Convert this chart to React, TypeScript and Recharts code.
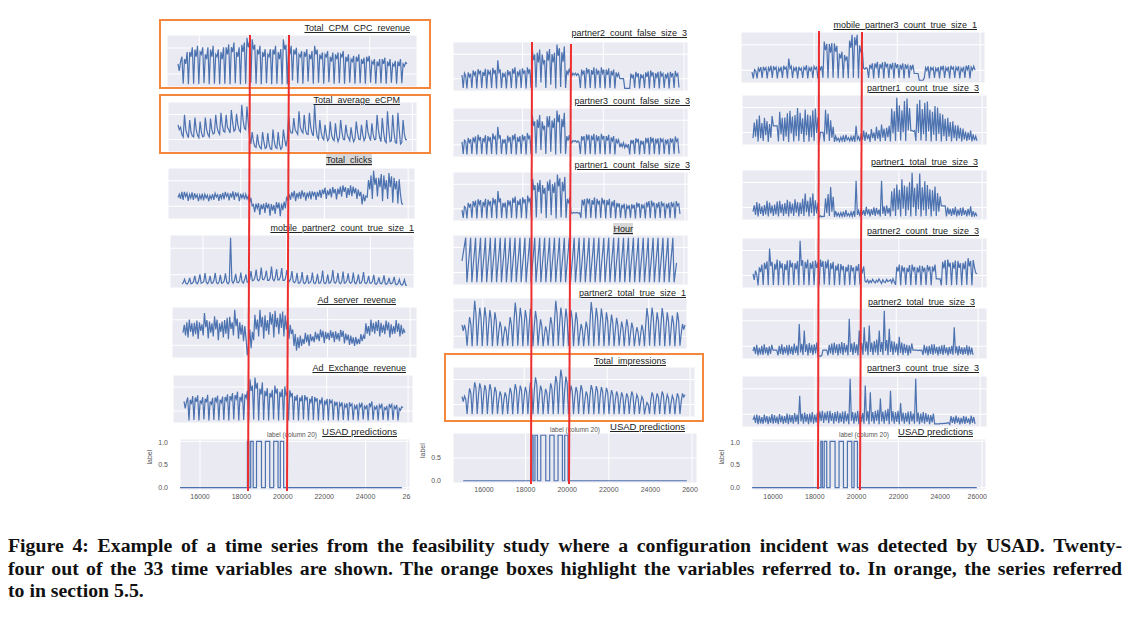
import React from "react";
import { LineChart, Line, XAxis, YAxis, CartesianGrid } from "recharts";

// shared time axis of the small panels (44 daily cycles, 4 readings a day)
const X_START = 15000;
const X_END = 25750;
const STEP = (X_END - X_START) / 176;

const GRID_X = [16000, 18000, 20000, 22000, 24000, 26000];

// ---- column 1 ----
const TOTAL_CPM_CPC_REVENUE = [
  4.5,3,5,6, 0.3,5.5,4.5,7, 0.2,7,6,8, 0.3,7.5,6,8.3, 0.2,7,6.5,8, 0.4,6.5,5.5,8, 0.2,7.5,6,8.3, 0.3,6.5,6,7.5,
  0.2,7,5.5,8, 0.3,8,6.5,8.6, 0.2,8,7,9, 0.4,7,6,8, 0.2,8.5,7,9, 0.3,10,8,9.2, 0.5,9.7,7.5,8.5, 0.3,7.5,6.5,8.3,
  0.2,7,6,7.6, 0.4,6.5,6,7.6, 0.2,7.5,6.5,8.3, 0.3,7,5.5,7.6, 0.2,9.7,7.5,8.5, 0.2,8,6.5,8.3, 1,7.5,6.5,7.9, 0.4,6.5,6,7.2,
  0.3,7,6,7.6, 0.8,6.5,5.5,7.2, 0.3,8.3,6.5,7.5, 0.5,6.5,5.5,6.9, 0.3,6.5,6,7.2, 0.6,6,5,6.9, 0.3,6.5,5.5,6.9, 0.4,6.5,6,7.2,
  0.3,6,5,6.5, 0.5,5.5,5,6.2, 0.3,6,5,6.5, 0.4,5.5,4.5,5.8, 0.3,6,5,6.2, 0.5,5,4.5,5.5, 0.3,5,4,5.5, 0.4,5.5,4.5,5.8,
  0.3,5,4,5.5, 0.5,4.5,4,5.1, 0.3,5,4,5.5, 0.4,4.5,4,4.8, 4.5,
];
const TOTAL_AVERAGE_ECPM = [
  5.5,4.5,5,3.5, 3,7.6,4.5,3.5, 2.8,6.5,4,3.2, 3,7,4.5,3.3, 2.8,6.2,4,3, 3.2,7,4.5,3.5, 3,6.8,4.5,3.6, 3.8,7.6,5,4,
  3.5,8,5.5,4.2, 4,7.6,5,4.5, 3.8,8.6,6,4.2, 4.5,7.8,5.5,4.4, 4,9.7,6.5,4.8, 4.5,9.3,6,3, 1.5,4,2,1, 0.8,3.5,1.5,0.8,
  0.5,4,2,0.6, 0.8,3.8,1.5,0.5, 0.4,4.5,2,0.8, 0.6,4,1.5,0.4, 0.8,4.5,2.5,1, 2.5,7.5,4.5,3.8, 3.8,6.9,4.5,4, 3.5,8.3,5,4.2,
  3.8,7.6,4.5,3.6, 3.5,8,5,3.8, 3.2,9.7,5,3, 2.5,6.5,4,2.8, 2.4,5.5,3.5,2.2, 2.6,6.2,3.5,2.5, 2.2,5.8,3.2,2, 2.8,6.5,4,2.5,
  2.4,5.5,3.5,2.8, 2.2,5,3,2, 2.6,6.2,4,2.5, 2.4,5.5,3.5,2.2, 2.8,6.5,4,3, 2.2,5.8,3.5,2.4, 2.5,7.6,4.5,2.8, 2,6.9,4,2.2,
  1.8,8.3,4.5,2, 2.2,7.6,4,1.8, 1.7,8,4.5,1.5, 1.8,6.5,3.5,2.4, 2.4,
];
const TOTAL_CLICKS = [
  4.3,5,4,5.5, 3.8,5.5,4.5,5.2, 3.6,5,4.2,5.4, 3.8,5.2,4.3,4.9, 3.5,4.8,4,5.1, 3.7,5,4.2,4.8, 3.5,4.7,4,5, 3.8,5.2,4.4,4.9,
  3.6,5,4.1,5.3, 3.9,5.5,4.5,5.1, 3.7,5.2,4.3,5.6, 3.8,5.4,4.6,5.2, 3.5,5.1,4.2,5, 3.9,5,4,4.6, 3.2,4.2,2.5,2.8, 1.2,3,2,3.1,
  0.6,2.8,1.8,3, 1,3.2,2,3, 0.4,2.9,1.5,2.7, 0.8,3.3,2,3.2, 0.3,3,1.6,3.4, 2,4.5,3.6,5, 3.8,5.4,4.5,5.7, 3.5,5.2,4.3,5.5,
  4,5.8,4.6,5.4, 3.6,5.3,4.4,5.6, 3.9,5.6,4.7,5.5, 3.8,5.5,4.5,5.9, 4.2,6,5,6.4, 4,5.8,4.8,6.2, 4.3,6.5,5.2,6.1, 3.9,6.2,5,6.6,
  4.5,6.9,5.5,6.5, 4.2,6.3,4.8,6.9, 4.6,6.6,5.2,6.3, 4,6,4.6,5.5, 2.8,5,3.5,4.6, 4.4,8,6,9, 4,10,7,8.5, 4.5,8.5,6.5,9.3,
  3.5,9,6,8, 4,9.5,6.5,8.8, 3.2,8.5,6,7.8, 3,8.2,5,3, 2.8,
];
const MOBILE_PARTNER2_COUNT_TRUE_SIZE_1 = [
  0.6,0.8,1.5,0.7, 0.5,0.9,1.8,0.6, 0.7,1,2.2,0.8, 0.6,1.2,2.5,0.7, 0.8,1,2.8,0.9, 0.6,1.1,2.2,0.7, 0.7,1.3,2.8,0.8, 0.6,1,2.4,0.7,
  0.8,1.2,2.7,0.9, 0.6,1,10,1.2, 0.7,1.3,2.6,0.9, 0.8,1.2,2.9,1, 0.7,1.4,2.5,0.9, 1,1.5,3.2,1.2, 1.3,1.8,3.5,1.4, 1.2,1.7,3.9,1.5,
  1.4,2,3.3,1.3, 1.3,1.8,4.1,1.5, 1.2,1.9,3.6,1.4, 1.4,2,3.8,1.3, 1.3,1.7,3.4,1.5, 1.1,1.6,3.2,1, 0.8,1.2,2.8,0.7, 0.7,1.3,3,0.8,
  0.6,1,2.4,0.7, 0.8,1.2,2.9,0.8, 0.6,1.1,2.6,0.7, 0.7,1.3,3.3,0.8, 0.6,1,2.5,0.7, 0.8,1.4,3.4,0.9, 0.7,1.2,2.8,0.8, 0.6,1.1,3.1,0.7,
  0.8,1.3,2.7,0.9, 0.7,1,2.9,0.8, 0.6,1.2,2.5,0.7, 0.7,1.3,3,0.8, 0.6,1,2.2,0.7, 0.7,1.1,2.4,0.6, 0.5,0.9,1.9,0.7, 0.6,1,2.3,0.6,
  0.5,0.8,1.8,0.6, 0.6,1,2,0.5, 0.4,0.7,1.5,0.5, 0.3,0.6,1.4,0.3, 0.3,
];
const AD_SERVER_REVENUE = [
  4.8,6.5,4.2,7, 3.8,7.6,5,6.8, 4,6.9,4.5,7.4, 3.5,7,5.2,6.6, 4.2,9,6,7.5, 3.6,7.2,4.8,6.8, 4,8.3,5.5,7.6, 3.2,6.8,5,7.2,
  3.8,7.5,4.6,8, 3.4,8.2,5.6,7, 4.2,9.7,6.2,7.8, 3.5,7,4.4,6.5, 3,6.2,3.5,0, 2.5,5.5,1.5,5, 3.2,8.6,5.5,7.6, 4,9.7,6,8.2,
  3.5,8.5,5.2,7.5, 4.4,9.2,6.5,8.8, 3.8,9.5,6,8, 4.5,8.9,5.8,9.3, 4,8.5,5.5,7.8, 3.5,6.5,4.5,5.5, 2,4.5,1,3.8, 1.5,4.2,2,3.5,
  2.4,4.8,2.8,4.4, 2,4.5,3,4, 2.8,5,3.4,4.6, 3,5.5,3.8,5.2, 2.6,5,3.5,4.8, 3.2,5.3,3.7,5, 2.8,5.1,3.4,4.7, 3,5.4,3.9,5.2,
  2.5,4.6,3.2,4.4, 2.2,4.2,2.5,3.8, 2,3.9,2.3,3.5, 2.4,4.5,3,4.2, 3.5,6.8,4.6,6.2, 4.2,7.6,5,6.9, 4.6,7.2,5.2,7.5, 4,6.9,4.8,6.5,
  4.5,7.4,5.3,7, 3.8,6.6,4.5,6.2, 4.6,7.5,5,6.8, 4,6.5,4.5,5.5, 4.8,
];
const AD_EXCHANGE_REVENUE = [
  4.6,3,4.5,5.5, 0.3,5,4,5.8, 0.4,5.5,4.5,6, 0.3,4.8,4.2,5.6, 0.5,5.2,4.4,6.1, 0.3,4.6,4,5.4, 0.4,5.5,4.6,5.9, 0.3,5,4.3,5.7,
  0.4,5.6,4.8,6.2, 0.3,5.8,5,6.5, 0.5,6,5.2,6.8, 0.3,5.6,4.8,6.4, 0.4,6.2,5.4,7, 0.3,9.6,7,8.2, 0.5,10,7.5,8.8, 0.3,7.5,6.2,8.9,
  0.4,7,5.8,7.6, 0.3,6.5,5.5,7.2, 0.5,8.2,6.4,7.5, 0.3,6.8,5.6,7.4, 0.4,8,6,6.6, 0.3,7.1,5.8,6.5, 0.4,5.8,4.8,6.1, 0.3,5.5,4.6,6,
  0.5,6,5,5.6, 0.3,5.2,4.4,5.8, 0.4,5.6,4.7,5.3, 0.3,5,4.2,5.5, 0.4,4.8,4,5.2, 0.3,5.1,4.3,4.8, 0.4,4.6,3.8,4.5, 0.3,4.2,3.6,4.4,
  0.4,3.9,3.3,4.2, 0.3,4.4,3.6,4, 0.4,3.6,3,3.9, 0.3,4,3.4,4.3, 0.5,3.5,3,3.8, 0.3,4.2,3.5,4.6, 0.4,3.4,2.9,3.7, 0.3,3.8,3.2,4.1,
  0.4,3.2,2.8,3.6, 0.3,4,3.3,3.9, 0.4,3.5,3,3.8, 0.3,3,2.6,3.4, 3.2,
];

// ---- column 2 ----
const PARTNER2_COUNT_FALSE_SIZE_3 = [
  3.2,0.3,3.6,3, 0.2,3.8,2.8,3.5, 0.3,4.2,3.2,4, 0.2,4.5,3.5,4.2, 0.3,3.9,3,4.6, 0.2,4.4,3.4,4, 0.3,4.8,3.6,4.3, 0.2,6.5,3.8,4.4,
  0.3,3.7,2.9,3.5, 0.2,4.3,3.3,4, 0.3,4.6,3.5,4.9, 0.2,4,3.1,4.4, 0.3,4.7,3.6,4.2, 0.2,4.9,3.7,4.5, 0.3,8.9,6.5,7.8, 0.4,8.2,6,8.9,
  1.5,7.8,5.8,6.5, 0.3,8.5,6.4,9, 1,7.9,6,8.2, 0.2,10,7.5,9.2, 0.5,8.3,6.2,9.6, 0.3,4.2,3.4,4.6, 3.5,3,3.6,3.2, 3.6,3.1,3.5,3,
  0.3,4.4,3.4,4.2, 0.2,4.8,3.7,4.5, 0.3,4.3,3.3,4.9, 0.2,4.6,3.5,4.2, 0.3,4.9,3.6,4.4, 0.2,4.4,3.2,4.7, 0.3,4.1,3.1,4.4, 0.2,3.8,2.9,3.6,
  2.4,2.4,2.4,2.4, 0.2,0.2,0.2,0.2, 0.2,3.5,2.6,3.3, 0.3,3.9,2.9,3.6, 0.2,3.4,2.6,3.1, 0.3,3.8,2.8,4, 0.2,4.2,3.1,3.8, 0.3,3.6,2.7,3.9,
  0.2,4,3,3.5, 0.3,3.4,2.6,3.7, 0.2,3.9,2.9,3.6, 0.3,4.1,3,3.5, 0.4,
];
const PARTNER3_COUNT_FALSE_SIZE_3 = [
  3,0.3,3.4,3.1, 0.2,3.9,2.9,3.6, 0.3,4,3.1,4.2, 0.2,4.6,3.4,4.1, 0.3,3.8,3.1,4.5, 0.2,4.3,3.3,4.1, 0.3,4.9,3.7,4.2, 0.2,6.4,3.9,4.5,
  0.3,3.6,2.8,3.6, 0.2,4.4,3.2,4.1, 0.3,4.5,3.6,4.8, 0.2,4.1,3,4.3, 0.3,4.6,3.5,4.3, 0.2,5,3.8,4.4, 0.3,9,6.6,7.6, 0.4,8,6.1,9,
  1.2,7.6,5.9,6.6, 0.3,8.7,6.3,8.8, 0.8,7.8,6.1,8.3, 0.2,10,7.4,9.1, 0.4,8.1,6.3,9.5, 0.3,4.3,3.3,4.5, 3.2,2.8,3.3,3.1, 3.3,2.9,3.2,2.9,
  0.3,4.3,3.5,4.3, 0.2,4.7,3.6,4.6, 0.3,4.4,3.4,4.8, 0.2,4.5,3.4,4.3, 0.3,4.8,3.7,4.3, 0.2,4.3,3.3,4.6, 0.3,4,3.2,4.3, 0.2,3.7,2.8,3.5,
  1.8,2.6,1.9,2.8, 1.7,2.4,1.8,2.5, 0.2,3.4,2.7,3.4, 0.3,3.8,3,3.7, 0.2,3.3,2.5,3.2, 0.3,3.9,2.9,3.9, 0.2,4.1,3,3.9, 0.3,3.7,2.8,3.8,
  0.2,3.9,3.1,3.6, 0.3,3.5,2.7,3.6, 0.2,3.8,3,3.7, 0.3,4.2,3.1,3.6, 0.4,
];
const PARTNER1_COUNT_FALSE_SIZE_3 = [
  2,0.3,2.8,2.5, 0.2,3.6,2.7,3.4, 0.3,4,3,4.1, 0.2,4.4,3.3,4.2, 0.3,3.8,3,4.5, 0.2,4.3,3.2,4, 0.3,4.7,3.5,4.4, 0.2,6.2,3.7,4.6,
  0.3,3.6,2.8,3.7, 0.2,4.2,3.2,4.1, 0.3,4.7,3.6,5, 0.2,4.1,3.1,4.5, 0.3,4.8,3.7,4.4, 0.2,5.2,3.9,4.7, 0.3,8.9,6.4,7.5, 0.4,8,6,8.6,
  1.3,7.5,5.6,6.9, 0.3,8.3,6.2,8.7, 0.9,7.7,5.8,8.1, 0.2,9.8,7.2,9, 0.4,8.2,6.1,9.3, 0.3,4.5,3.5,4.8, 1.4,1.3,1.5,1.4, 1.4,1.5,1.3,1.4,
  0.3,4.3,3.3,4.4, 0.2,4.6,3.6,4.5, 0.3,4.2,3.2,4.8, 0.2,4.5,3.4,4.1, 0.3,4.7,3.5,4.3, 0.2,4.2,3.1,4.5, 0.3,3.9,3,4.2, 0.2,3.6,2.8,3.5,
  0.3,3.2,2.5,3.4, 0.2,3,2.4,3.1, 0.3,3.3,2.5,3.2, 0.2,3.7,2.8,3.5, 0.3,3.3,2.5,3.1, 0.2,3.8,2.9,4, 0.3,4.1,3,3.7, 0.2,3.5,2.7,3.8,
  0.3,3.9,3,3.4, 0.2,3.4,2.6,3.6, 0.3,3.8,2.9,3.5, 0.2,4,3,3.4, 1.2,
];
const HOUR = [
  11,15,19,23, 0,8,15,23, 0,8,15,23, 0,8,15,23, 0,8,15,23, 0,8,15,23, 0,8,15,23, 0,8,15,23,
  0,8,15,23, 0,8,15,23, 0,8,15,23, 0,8,15,23, 0,8,15,23, 0,8,15,23, 0,8,15,23, 0,8,15,23,
  0,8,15,23, 0,8,15,23, 0,8,15,23, 0,8,15,23, 0,8,15,23, 0,8,15,23, 0,8,15,23, 0,8,15,23,
  0,8,15,23, 0,8,15,23, 0,8,15,23, 0,8,15,23, 0,8,15,23, 0,8,15,23, 0,8,15,23, 0,8,15,23,
  0,8,15,23, 0,8,15,23, 0,8,15,23, 0,8,15,23, 0,8,15,23, 0,8,15,23, 0,8,15,23, 0,8,15,23,
  0,8,15,23, 0,8,15,23, 0,8,15,23, 0,5,10,
];
const PARTNER2_TOTAL_TRUE_SIZE_1 = [
  4.8,3.5,4.8,3.6, 0.3,3.8,6.5,4.9, 0.2,5.5,10,7.2, 0.3,4.9,8.5,6.4, 0.2,5,8.6,6.3, 0.3,4.6,8,6, 0.2,4.2,7.5,5.7, 0.3,3.2,5.5,4.2,
  0.2,2.6,4.5,3.4, 0.3,3.7,6.5,4.8, 0.2,5.4,9.6,7, 0.3,4.8,8.5,6.3, 0.2,4.5,8,6.1, 0.3,4.7,8.3,6.2, 0.2,4.4,7.8,5.8, 0.3,3.4,6,4.5,
  0.2,2.6,4.5,3.3, 0.3,3.7,6.5,4.9, 0.2,5.6,10,7.3, 0.3,4.8,8.5,6.4, 0.2,4.7,8.3,6.1, 0.3,4.5,8,6, 0.2,4.3,7.5,5.6, 0.3,2.9,5,3.8,
  0.2,3.1,5.5,4.1, 0.3,5.4,9.7,7.1, 0.2,4.9,8.5,6.3, 0.3,4.7,8.3,6.2, 0.2,4.2,7.5,5.6, 0.3,4,7,5.2, 0.2,3.6,6.3,4.7, 0.3,3.1,5.5,4.1,
  0.2,3.4,6,4.5, 0.3,3,5.3,4, 0.2,2.5,4.3,3.2, 0.3,2.7,4.8,3.6, 0.2,4.8,8.4,6.2, 0.3,4.9,8.5,6.4, 0.2,4.3,7.5,5.6, 0.3,4.8,8.4,6.3,
  0.2,4.3,7.5,5.5, 0.3,3.9,6.8,5.1, 0.2,4.3,7.5,5.6, 0.3,2.9,5,3.8, 4.8,
];
const TOTAL_IMPRESSIONS = [
  4.1,3,4.2,3.5, 0.3,3.6,5.9,4.8, 0.2,4.5,7.2,6, 0.3,4.4,7,5.8, 0.2,4.1,6.6,5.5, 0.3,4.2,6.8,5.6, 0.2,3.9,6.2,5.1, 0.3,3.3,5.2,4.3,
  0.2,3.2,5,4.1, 0.3,3.8,6,4.9, 0.2,4.3,6.8,5.6, 0.3,4.1,6.5,5.4, 0.2,3.9,6.2,5.1, 0.3,4.5,7.2,6, 0.2,5.2,8.3,6.8, 0.3,4.1,6.5,5.4,
  0.2,3.7,5.8,4.8, 0.3,4.4,7,5.8, 0.2,5.4,8.6,7.1, 0.3,6.3,10,8.2, 0.2,5.3,8.5,7, 0.3,4.1,6.5,5.3, 0.2,3.9,6.2,5.1, 0.3,4.2,6.6,5.4,
  0.2,3.3,5.2,4.3, 0.3,4.2,6.6,5.5, 0.2,4,6.4,5.3, 0.3,3.9,6.2,5.1, 0.2,3.8,6,5, 0.3,3.5,5.5,4.6, 0.2,3.3,5.2,4.3, 0.3,3.2,5,4.1,
  0.2,3,4.8,4, 0.3,3.3,5.2,4.3, 0.2,2.9,4.5,3.7, 0.3,2.6,4.1,3.4, 0.2,1.8,2.8,2.3, 0.3,3.2,5,4.1, 0.2,3,4.8,4, 0.3,3.3,5.2,4.3,
  0.2,2.9,4.5,3.7, 0.3,2.7,4.3,3.5, 0.2,3,4.8,4, 0.3,3,4.8,4, 4.5,
];

// ---- column 3 ----
const MOBILE_PARTNER3_COUNT_TRUE_SIZE_1 = [
  2,0.7,2.5,2.2, 0.7,2.8,2.2,3, 0.8,3.1,2.4,2.9, 0.7,2.9,2.3,3.3, 0.8,3.2,2.5,3, 0.7,2.8,2.2,3.1, 0.8,3.3,2.6,3, 0.7,4.8,2.7,3.2,
  0.8,2.9,2.3,3.1, 0.7,3.1,2.4,2.8, 0.8,3,2.5,3.4, 0.7,2.9,2.3,3.1, 0.8,3.2,2.6,3, 0.7,3.4,2.5,3.2, 0.8,8.3,6.5,7.8, 0.7,7.8,6,8,
  0.8,7.9,6.2,7.4, 0.7,5.8,4.8,6.2, 0.8,5.5,4.5,5.2, 0.7,8.5,7,9.7, 0.8,9.2,7.5,9.7, 0.7,7.5,6,7, 2.8,2.6,2.9,2.7, 0.8,3.5,2.8,3.8,
  0.7,3.8,3,4.1, 0.8,3.6,2.9,4, 0.7,4.1,3.1,3.7, 0.8,3.7,2.8,3.9, 0.7,3.9,3,3.6, 0.8,3.5,2.7,3.8, 0.7,3.6,2.8,3.4, 0.8,3.4,2.6,3.5,
  1.7,1.7,1.7,1.7, 0.3,0.3,0.3,0.3, 0.8,2.9,2.3,3.2, 0.7,3.1,2.4,2.9, 0.8,2.8,2.2,3, 0.7,3.2,2.5,3.3, 0.8,2.9,2.3,3.1, 0.7,3.3,2.6,3,
  0.8,3,2.4,3.2, 0.7,2.8,2.2,3.1, 0.8,3.3,2.5,3.4, 0.7,3,2.4,3.2, 2.4,
];
const PARTNER1_COUNT_TRUE_SIZE_3 = [
  1.2,4.5,1.5,5.2, 0.5,6,1.2,4.4, 0.6,5.5,1.8,4.8, 0.4,4.2,1.3,5.9, 3.8,3.8,3.8,3.8, 0.5,6.8,2,5.5, 0.6,5.6,1.5,6.5, 0.4,7,2.2,5.8,
  0.5,6.1,1.6,7.6, 0.6,6.6,2.1,5.4, 0.4,7.3,1.8,6.2, 0.5,6,1.4,7.1, 0.6,7.5,2.3,5.6, 0.3,2.4,2.4,2.4, 0.5,7.2,2,6.4, 0.6,5,1.3,3.6,
  0.4,1.6,0.7,1.2, 0.5,1.4,0.6,1.8, 0.4,1.9,0.8,1.3, 0.6,1.5,0.5,1.7, 0.4,3.8,0.9,1.5, 0.5,2.2,0.8,2.8, 0.6,2.5,1,2, 0.4,3.1,1.2,2.4,
  0.6,3.6,1.1,2.9, 0.5,4.1,1.3,3.2, 0.6,3.4,1.4,3.8, 0.5,7.5,2.2,6.9, 0.6,9.8,2.5,8.2, 0.7,7.1,2.4,9.1, 0.6,9.6,2.8,7.6, 2.8,2.8,2.6,2.8,
  0.6,8.5,2.3,9.3, 0.7,7.4,2,8.7, 0.6,9,2.6,7.2, 0.5,6.8,1.9,8, 0.6,7.7,2.1,6.5, 0.5,6.2,1.6,5.3, 0.6,5.5,1.5,4.6, 0.5,4.8,1.2,3.9,
  0.6,3.9,1.1,3.4, 0.5,3.2,0.9,2.6, 0.6,2.4,0.8,2.8, 0.5,2,0.7,1.6, 0.6,
];
const PARTNER1_TOTAL_TRUE_SIZE_3 = [
  1.5,2.8,0.8,3.5, 0.5,3.2,1,2.6, 0.6,2.9,0.9,3.8, 0.5,3.4,1.1,2.8, 0.6,3,0.9,3.6, 0.5,3.8,1.2,3.1, 0.6,3.3,1,4, 0.5,3.6,1.1,3.2,
  0.6,4.1,1.3,3.5, 0.5,3.4,1,4.2, 0.6,5.3,1.4,3.8, 0.5,4.5,1.2,5.3, 0.6,3.9,1.1,3.3, 0.3,0.6,0.4,0.5, 0.5,4.3,1.2,5.2, 0.6,6.7,1.5,4.6,
  0.4,1.6,0.6,1.2, 0.5,1.3,0.5,1.5, 0.4,1.8,0.6,1.1, 0.5,1.4,0.5,1.6, 0.4,8,0.8,1.7, 0.5,2.2,0.8,1.8, 0.6,2.5,0.9,2, 0.5,2,0.8,2.4,
  0.6,2.3,0.9,1.9, 0.5,8,1,2.6, 0.6,2.8,1.1,2.3, 0.5,5.8,1.6,6.4, 0.6,7.2,1.9,6.1, 0.5,8.3,2.1,7, 0.6,6.8,1.8,7.7, 0.5,9.7,2.4,6.5,
  0.6,7.4,2,9.5, 0.5,6.6,1.8,7.9, 0.6,7.1,2,6.2, 0.5,6,1.6,6.8, 0.6,5.4,1.5,4.7, 2.7,2.7,2.7,2.7, 0.5,2.4,0.9,2.1, 0.6,2.2,0.8,2.5,
  0.5,1.9,0.7,2.3, 0.6,2.4,0.8,1.8, 0.5,2.1,0.7,2.6, 0.4,1.6,0.6,1.2, 0.5,
];
const PARTNER2_COUNT_TRUE_SIZE_3 = [
  2.8,1.5,3.5,2.5, 0.3,4.2,3.2,4.8, 0.4,5.2,3.8,5.5, 0.3,8.3,4.5,5.4, 0.4,5,3.7,5.9, 0.3,5.6,4,5.1, 0.4,4.9,3.6,5.7, 0.3,5.8,4.2,5.2,
  0.4,5.1,3.8,5.6, 0.3,10,4.5,5.8, 0.4,5.4,4,5.9, 0.3,5.2,3.9,5.5, 0.4,5.7,4.1,5.3, 0.3,5.9,4.3,5.6, 0.5,5.5,4,5.9, 0.4,5.1,3.8,5.4,
  0.3,4.6,3.5,5, 0.4,4.9,3.7,4.5, 0.3,4.3,3.3,4.8, 0.4,4.7,3.5,4.2, 0.3,4.5,3.4,4.9, 0.5,4.1,3.2,4.4, 1.2,1,1.5,0.8, 1.3,0.9,1.6,1.1,
  0.8,1.4,1,1.7, 1.2,0.7,1.5,1, 0.9,1.6,1.1,1.3, 1.5,0.8,1.7,1, 0.4,4.3,3.3,4.8, 0.3,4.6,3.4,4.2, 0.4,4.1,3.2,4.7, 0.3,4.8,3.5,4.3,
  0.4,4.2,3.1,4.6, 0.3,4.5,3.4,4.1, 0.4,4.7,3.6,4.4, 0.3,4.4,3.3,4.8, 1.7,1.7,1.7,1.7, 0.3,5.4,4,5.8, 0.4,5.9,4.3,5.2, 0.3,5.3,3.9,5.7,
  0.4,5.6,4.1,5.1, 0.3,5.2,3.8,5.5, 0.4,6.2,4.4,5.6, 0.3,5.8,4.2,3, 2.8,
];
const PARTNER2_TOTAL_TRUE_SIZE_3 = [
  1.5,2.4,0.9,2.8, 0.6,2.2,0.8,2.6, 0.7,2.9,1,2.3, 0.6,2.5,0.9,2.8, 1.7,1.7,1.7,1.7, 0.6,2.6,0.9,2.9, 0.7,2.4,1,2.7, 0.6,2.8,0.9,2.5,
  0.7,3.1,1.1,2.6, 0.6,7.2,1.2,3, 0.7,5.8,1.3,2.9, 0.6,3.2,1.1,2.8, 0.7,2.9,1,3.3, 0.4,0.5,0.4,0.6, 1.7,1.7,1.7,1.7, 0.6,2.8,1,3.1,
  0.7,3.3,1.1,2.9, 0.6,3,1,3.4, 0.7,3.2,1.2,2.8, 0.6,8.3,1.3,3.1, 0.7,3.4,1.1,2.9, 0.6,5.8,1.2,3.2, 0.7,6.5,1.4,3.5, 0.6,6.9,1.3,3.3,
  0.7,3.6,1.2,3.9, 0.6,5.8,1.3,3.4, 0.7,10,1.5,3.8, 0.6,6.2,1.3,3.6, 0.7,3.5,1.2,3.1, 0.6,4.5,1.1,3.3, 0.7,3,1.1,2.8, 0.6,2.7,1,3.1,
  1.7,1.7,1.7,1.7, 1.6,1.7,1.6,1.7, 0.7,2.8,1,2.5, 0.6,2.6,0.9,2.9, 0.7,2.9,1,2.4, 0.6,2.5,0.9,2.7, 0.7,2.8,1,2.3, 0.6,2.4,0.9,2.6,
  0.7,6.5,1,2.5, 0.6,2.6,0.9,2.3, 0.7,2.3,0.9,2.7, 0.6,2.5,0.8,2.2, 0.7,
];
const PARTNER3_COUNT_TRUE_SIZE_3 = [
  1.5,2.2,0.9,2.6, 0.6,2.4,0.8,2.1, 0.7,2.6,1,2.3, 0.6,2.2,0.9,2.7, 0.7,2.5,0.9,2.2, 0.6,2.7,1,2.4, 0.7,2.3,0.9,2.8, 0.6,2.6,1,2.5,
  0.7,2.9,1.1,2.6, 0.6,6.5,1.2,2.8, 0.7,3,1.1,2.7, 0.6,2.8,1,3.1, 0.7,2.6,1,2.9, 0.8,3.2,1.3,3.4, 0.9,3,1.4,3.3, 0.8,3.4,1.3,2.9,
  0.7,3.1,1.2,3.3, 0.8,2.9,1.1,3.2, 0.7,3.3,1.2,2.8, 0.6,10,1.3,3.1, 0.7,3,1.2,3.4, 0.6,3.2,1.1,2.9, 0.7,8.6,1.3,3.3, 0.6,7.2,1.2,3.1,
  0.7,3.4,1.3,3.6, 0.6,5.9,1.2,3.2, 0.7,3.5,1.3,3.8, 0.6,7.5,1.2,3.3, 0.7,3.1,1.1,3.4, 0.6,5,1.2,3, 0.7,2.9,1.1,3.2, 0.6,3.3,1.2,2.8,
  0.7,10,1.1,3, 0.6,2.8,1,3.1, 0.7,2.9,1.1,2.6, 0.6,2.5,1,2.8, 0.7,0.7,0.7,0.7, 0.7,0.8,0.7,0.8, 0.8,0.8,0.9,0.9, 0.6,2.3,0.9,2.1,
  0.7,2.4,0.9,2, 0.6,1.9,0.8,2.3, 0.7,2.2,0.9,1.8, 0.6,2.4,0.9,2.1, 0.7,
];

// USAD predictions: step changes of the label
const USAD_X = [15000, 18290, 18360, 18450, 18570, 18730, 18970, 19160, 19370, 19560, 19770, 19880, 20040, 25750];
const USAD_Y = [0, 1, 0, 1, 0, 1, 0, 1, 0, 1, 0, 1, 0, 0];
const USAD_X_TICKS = [16000, 18000, 20000, 22000, 24000, 26000];

const CAPTION_LINES = [
  "Figure 4: Example of a time series from the feasibility study where a configuration incident was detected by USAD. Twenty-",
  "four out of the 33 time variables are shown. The orange boxes highlight the variables referred to. In orange, the series referred",
  "to in section 5.5.",
];

const BLUE = "#4C72B0";
const PANEL_BG = "#EAEAF2";
const ORANGE = "#F4873C";
const RED = "#EE2E2E";
const SANS = "'Liberation Sans', Arial, sans-serif";

type Panel = {
  title: string;
  values: number[];
  box: [number, number, number, number]; // left, top, width, height of the plot
  span: [number, number]; // pixel x where the series starts / ends
  titleAt: [number, number]; // right edge, centre y
  shade?: boolean;
};

const PANELS: Panel[] = [
  { title: "Total_CPM_CPC_revenue", values: TOTAL_CPM_CPC_REVENUE, box: [167, 35, 250, 52], span: [178, 407], titleAt: [410, 28] },
  { title: "Total_average_eCPM", values: TOTAL_AVERAGE_ECPM, box: [168, 102, 249, 50], span: [178, 407], titleAt: [400, 100] },
  { title: "Total_clicks", values: TOTAL_CLICKS, box: [168, 168, 247, 51], span: [178, 403], titleAt: [372, 160], shade: true },
  { title: "mobile_partner2_count_true_size_1", values: MOBILE_PARTNER2_COUNT_TRUE_SIZE_1, box: [170, 235, 244, 53], span: [182, 407], titleAt: [414, 228] },
  { title: "Ad_server_revenue", values: AD_SERVER_REVENUE, box: [172, 307, 245, 51], span: [183, 405], titleAt: [396, 300] },
  { title: "Ad_Exchange_revenue", values: AD_EXCHANGE_REVENUE, box: [173, 375, 240, 48], span: [184, 403], titleAt: [406, 368] },

  { title: "partner2_count_false_size_3", values: PARTNER2_COUNT_FALSE_SIZE_3, box: [453, 42, 235, 49], span: [462, 679], titleAt: [687, 33] },
  { title: "partner3_count_false_size_3", values: PARTNER3_COUNT_FALSE_SIZE_3, box: [453, 108, 235, 49], span: [462, 679], titleAt: [690, 101] },
  { title: "partner1_count_false_size_3", values: PARTNER1_COUNT_FALSE_SIZE_3, box: [453, 172, 235, 49], span: [462, 680], titleAt: [690, 165] },
  { title: "Hour", values: HOUR, box: [453, 235, 235, 50], span: [462, 679], titleAt: [633, 229], shade: true },
  { title: "partner2_total_true_size_1", values: PARTNER2_TOTAL_TRUE_SIZE_1, box: [453, 298, 234, 51], span: [462, 685], titleAt: [686, 293] },
  { title: "Total_impressions", values: TOTAL_IMPRESSIONS, box: [453, 367, 242, 50], span: [462, 685], titleAt: [666, 361] },

  { title: "mobile_partner3_count_true_size_1", values: MOBILE_PARTNER3_COUNT_TRUE_SIZE_1, box: [741, 32, 244, 51], span: [752, 975], titleAt: [977, 25] },
  { title: "partner1_count_true_size_3", values: PARTNER1_COUNT_TRUE_SIZE_3, box: [742, 95, 245, 50], span: [753, 977], titleAt: [979, 88] },
  { title: "partner1_total_true_size_3", values: PARTNER1_TOTAL_TRUE_SIZE_3, box: [742, 170, 245, 50], span: [753, 977], titleAt: [978, 162] },
  { title: "partner2_count_true_size_3", values: PARTNER2_COUNT_TRUE_SIZE_3, box: [742, 238, 245, 50], span: [753, 977], titleAt: [979, 231] },
  { title: "partner2_total_true_size_3", values: PARTNER2_TOTAL_TRUE_SIZE_3, box: [742, 308, 245, 51], span: [753, 973], titleAt: [975, 302] },
  { title: "partner3_count_true_size_3", values: PARTNER3_COUNT_TRUE_SIZE_3, box: [742, 376, 245, 51], span: [753, 975], titleAt: [979, 368] },
];

type UsadPanel = {
  box: [number, number, number, number];
  domain: [number, number];
  yTicks: number[];
  lastTick: string;
  titleAt: [number, number];
  labelAt: [number, number];
};

const USAD_PANELS: UsadPanel[] = [
  { box: [180, 439, 230, 51], domain: [15034, 26145], yTicks: [0, 0.5, 1], lastTick: "26", titleAt: [397, 432], labelAt: [292, 435] },
  { box: [453, 433, 244, 50], domain: [14510, 26240], yTicks: [0, 0.5], lastTick: "2600", titleAt: [685, 427], labelAt: [575, 430] },
  { box: [752, 439, 234, 51], domain: [14995, 26191], yTicks: [0, 0.5, 1], lastTick: "26000", titleAt: [973, 432], labelAt: [864, 435] },
];

const RED_LINES = [
  [250, 35, 248, 491], [289, 35, 287, 491],
  [532, 42, 531, 484], [571, 44, 569, 484],
  [819, 31, 818, 489], [862, 32, 860, 490],
];
const ORANGE_BOXES = [
  [159, 19, 272, 70],
  [159, 94, 272, 60],
  [444, 353, 260, 69],
];

function Title({ text, at, size = 9, shade = false }: { text: string; at: [number, number]; size?: number; shade?: boolean }) {
  return (
    <div
      style={{
        position: "absolute",
        right: 1137 - at[0],
        top: at[1] - 6,
        lineHeight: "12px",
        fontSize: size,
        fontFamily: SANS,
        color: "#222",
        textDecoration: "underline",
        whiteSpace: "nowrap",
        background: shade ? "#d8d8d8" : "transparent",
      }}
    >
      {text}
    </div>
  );
}

function SeriesPanel({ p }: { p: Panel }) {
  const [left, top, width, height] = p.box;
  const [dl, dr] = p.span;
  const k = (dr - dl) / (X_END - X_START);
  const x0 = X_START - (dl - left) / k;
  const x1 = X_END + (left + width - dr) / k;
  const lo = Math.min(...p.values);
  const hi = Math.max(...p.values);
  const pad = (hi - lo) * 0.06;
  const y0 = lo - pad;
  const y1 = hi + pad;
  const rows = p.values.map((v, i) => ({ t: X_START + i * STEP, v }));
  return (
    <>
      <div style={{ position: "absolute", left, top }}>
        <LineChart width={width} height={height} data={rows} margin={{ top: 0, right: 0, bottom: 0, left: 0 }}>
          <CartesianGrid fill={PANEL_BG} fillOpacity={1} stroke="#ffffff" strokeWidth={1} />
          <XAxis dataKey="t" type="number" domain={[x0, x1]} ticks={GRID_X.filter((t) => t > x0 && t < x1)} hide allowDataOverflow />
          <YAxis type="number" domain={[y0, y1]} ticks={[0.25, 0.5, 0.75].map((f) => y0 + (y1 - y0) * f)} hide allowDataOverflow />
          <Line type="linear" dataKey="v" stroke={BLUE} strokeWidth={1.2} dot={false} isAnimationActive={false} />
        </LineChart>
      </div>
      <Title text={p.title} at={p.titleAt} shade={p.shade} />
    </>
  );
}

const YW = 32;
const XH = 14;

function UsadChart({ u }: { u: UsadPanel }) {
  const [left, top, width, height] = u.box;
  const rows = USAD_X.map((t, i) => ({ t, v: USAD_Y[i] }));
  const tick = { fontSize: 7, fill: "#555", fontFamily: SANS };
  return (
    <>
      <div style={{ position: "absolute", left: left - YW, top }}>
        <LineChart width={width + YW} height={height + XH} data={rows} margin={{ top: 0, right: 0, bottom: 0, left: 0 }}>
          <CartesianGrid fill={PANEL_BG} fillOpacity={1} stroke="#ffffff" strokeWidth={1} />
          <XAxis
            dataKey="t"
            type="number"
            domain={u.domain}
            ticks={USAD_X_TICKS}
            allowDataOverflow
            height={XH}
            axisLine={false}
            tickLine={false}
            tickSize={0}
            tickMargin={4}
            tick={tick}
            tickFormatter={(v: number) => (v === 26000 ? u.lastTick : String(v))}
          />
          <YAxis
            type="number"
            domain={[-0.05, 1.05]}
            ticks={u.yTicks}
            allowDataOverflow
            width={YW}
            axisLine={false}
            tickLine={false}
            tickSize={0}
            tickMargin={12}
            tick={tick}
            tickFormatter={(v: number) => v.toFixed(1)}
            label={{ value: "label", angle: -90, position: "insideLeft", offset: 2, style: { fontSize: 7, fill: "#555", fontFamily: SANS } }}
          />
          <Line type="stepAfter" dataKey="v" stroke={BLUE} strokeWidth={1.2} dot={false} isAnimationActive={false} />
        </LineChart>
      </div>
      <Title text="USAD predictions" at={u.titleAt} size={9.5} />
      <div
        style={{
          position: "absolute",
          left: u.labelAt[0] - 40,
          width: 80,
          top: u.labelAt[1] - 5,
          textAlign: "center",
          fontSize: 6.5,
          lineHeight: "10px",
          fontFamily: SANS,
          color: "#555",
        }}
      >
        label (column 20)
      </div>
    </>
  );
}

export default function App() {
  return (
    <div style={{ position: "absolute", left: 0, top: 0, width: 1137, height: 620, background: "#fff", overflow: "hidden" }}>
      <style>{".recharts-surface{overflow:visible}"}</style>
      {PANELS.map((p) => (
        <SeriesPanel key={p.title} p={p} />
      ))}
      {USAD_PANELS.map((u, i) => (
        <UsadChart key={i} u={u} />
      ))}
      {ORANGE_BOXES.map(([l, t, w, h], i) => (
        <div
          key={i}
          style={{ position: "absolute", left: l, top: t, width: w, height: h, border: `2px solid ${ORANGE}`, boxSizing: "border-box" }}
        />
      ))}
      <svg width={1137} height={620} style={{ position: "absolute", left: 0, top: 0, pointerEvents: "none" }}>
        {RED_LINES.map(([xa, ya, xb, yb], i) => (
          <line key={i} x1={xa} y1={ya} x2={xb} y2={yb} stroke={RED} strokeWidth={2} />
        ))}
      </svg>
      <div
        style={{
          position: "absolute",
          left: 8,
          top: 534,
          width: 1114,
          fontFamily: "'Liberation Serif', 'Times New Roman', serif",
          fontWeight: "bold",
          fontSize: 19.8,
          lineHeight: "22.5px",
          color: "#111",
        }}
      >
        {CAPTION_LINES.map((line, i) => (
          <div key={i} style={{ textAlign: "justify", textAlignLast: i < 2 ? "justify" : "left" }}>
            {line}
          </div>
        ))}
      </div>
    </div>
  );
}
